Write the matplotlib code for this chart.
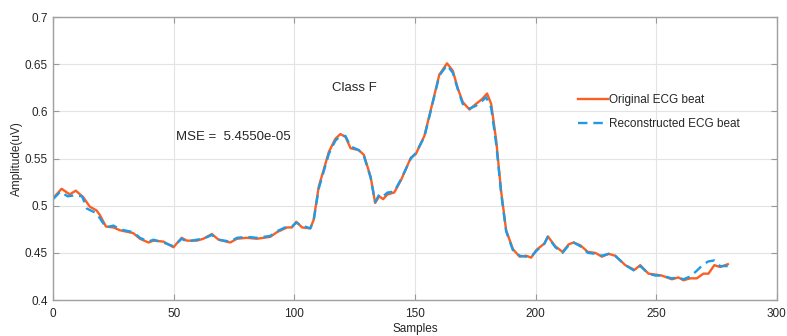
import matplotlib
matplotlib.use('Agg')
import matplotlib.pyplot as plt

plt.rcParams['font.family'] = ['Liberation Sans', 'DejaVu Sans']

# original ECG beat (sample index, amplitude)
x_orig = [0, 3.5, 6.9, 9.4, 12.5, 15.2, 18, 19.4, 21.9, 25, 27.7, 33.2, 36, 39.5,
          41.6, 45.7, 49.9, 53.3, 55.4, 59.6, 62.3, 65.8, 68.6, 73.4, 76.2, 80.3,
          84.5, 90, 92.8, 97, 99, 100.8, 103.2, 106.6, 108, 110.1, 114.3, 117,
          119.1, 121.2, 123.3, 126.7, 128.8, 131.6, 133.5, 135.2, 136.8, 138.6,
          141.4, 144.2, 148.3, 150.4, 153.9, 156.6, 160.1, 163.3, 165.7, 167.7,
          169.8, 172.6, 175.3, 177.8, 179.9, 181.6, 183.7, 185.7, 187.8, 190.6,
          193.4, 196.1, 198.2, 200.3, 203.7, 205.1, 208.2, 211.2, 213.7, 215.8,
          218.6, 221.7, 224.8, 227.5, 230.3, 233, 237.2, 241, 243.4, 246.8, 249.6,
          252.3, 256.5, 259.2, 261.3, 264.1, 266.8, 269.6, 271.7, 274.1, 276.5, 279.7]
y_orig = [0.508, 0.518, 0.512, 0.516, 0.509, 0.499, 0.495, 0.490, 0.478, 0.477,
          0.474, 0.471, 0.465, 0.461, 0.463, 0.462, 0.456, 0.466, 0.463, 0.463,
          0.465, 0.470, 0.464, 0.461, 0.465, 0.466, 0.465, 0.467, 0.472, 0.477,
          0.477, 0.483, 0.477, 0.476, 0.485, 0.520, 0.557, 0.571, 0.576, 0.573,
          0.561, 0.559, 0.554, 0.531, 0.503, 0.510, 0.507, 0.512, 0.514, 0.527,
          0.551, 0.555, 0.574, 0.602, 0.639, 0.651, 0.643, 0.625, 0.610, 0.602,
          0.608, 0.613, 0.619, 0.608, 0.569, 0.516, 0.474, 0.454, 0.446, 0.447,
          0.445, 0.453, 0.460, 0.4675, 0.457, 0.451, 0.459, 0.461, 0.458, 0.451,
          0.450, 0.446, 0.449, 0.447, 0.437, 0.432, 0.437, 0.428, 0.427, 0.426,
          0.422, 0.424, 0.421, 0.423, 0.423, 0.428, 0.428, 0.437, 0.435, 0.438]

# reconstructed ECG beat
x_rec = [0, 3, 6, 9, 12, 14, 18, 21.9, 25, 27.7, 33.2, 36, 39.5, 41.6, 45.7, 49.9,
         53.3, 55.4, 59.6, 62.3, 65.8, 68.6, 73.4, 76.2, 80.3, 84.5, 90, 92.8, 97,
         99, 100.8, 103.2, 106.6, 108, 110.1, 114.3, 117, 119.1, 121.2, 123.3,
         126.7, 128.8, 131.6, 133.5, 135.2, 136.8, 138.6, 141.4, 144.2, 148.3,
         150.4, 153.9, 156.6, 160.1, 163.3, 165.7, 167.7, 169.8, 172.6, 175.3,
         177.8, 179.5, 181.6, 183.7, 185.7, 187.8, 190.6, 193.4, 196.1, 198.2,
         200.3, 203.7, 205.1, 208.2, 211.2, 213.7, 215.8, 218.6, 221.7, 224.8,
         227.5, 230.3, 233, 237.2, 241, 243.4, 246.8, 249.6, 252.3, 256.5, 259.2,
         261.3, 264.1, 266.8, 269.6, 271.7, 274.1, 276.5, 279.7]
y_rec = [0.507, 0.515, 0.510, 0.511, 0.510, 0.497, 0.492, 0.477, 0.479, 0.475,
         0.472, 0.466, 0.462, 0.464, 0.461, 0.457, 0.465, 0.462, 0.464, 0.465,
         0.469, 0.464, 0.462, 0.466, 0.467, 0.466, 0.468, 0.473, 0.478, 0.478,
         0.482, 0.479, 0.476, 0.484, 0.518, 0.555, 0.569, 0.574, 0.574, 0.563,
         0.559, 0.553, 0.530, 0.504, 0.512, 0.510, 0.514, 0.515, 0.528, 0.550,
         0.556, 0.573, 0.601, 0.638, 0.649, 0.641, 0.624, 0.608, 0.603, 0.606,
         0.611, 0.615, 0.604, 0.565, 0.514, 0.473, 0.453, 0.447, 0.446, 0.446,
         0.452, 0.460, 0.467, 0.456, 0.450, 0.458, 0.461, 0.457, 0.450, 0.449,
         0.447, 0.449, 0.447, 0.437, 0.431, 0.436, 0.428, 0.426, 0.426, 0.423,
         0.424, 0.422, 0.425, 0.431, 0.438, 0.441, 0.442, 0.436, 0.436]

x_ticks = [0, 50, 100, 150, 200, 250, 300]
y_ticks = [0.4, 0.45, 0.5, 0.55, 0.6, 0.65, 0.7]
y_ticklabels = ['0.4', '0.45', '0.5', '0.55', '0.6', '0.65', '0.7']

fig = plt.figure(figsize=(7.87, 3.36), dpi=100)
ax = fig.add_axes([0.0675, 0.107, 0.9195, 0.842])

ax.plot(x_orig, y_orig, color='#fa5f23', lw=1.7, label='Original ECG beat')
ax.plot(x_rec, y_rec, color='#1f9be6', lw=1.7, ls=(0, (4, 2.5)),
        label='Reconstructed ECG beat')

ax.set_xlim(0, 300)
ax.set_ylim(0.4, 0.7)
ax.set_xticks(x_ticks)
ax.set_yticks(y_ticks)
ax.set_yticklabels(y_ticklabels)
ax.grid(True, color='#e3e3e3', lw=0.8)
ax.tick_params(direction='in', top=True, right=True, labelsize=8.5,
               colors='#999999', labelcolor='#262626', length=4)
ax.tick_params(axis='x', pad=6)
ax.tick_params(axis='y', pad=4)
for s in ax.spines.values():
    s.set_color('#a0a0a0')
    s.set_linewidth(1.0)

ax.set_xlabel('Samples', fontsize=8.5, color='#262626', labelpad=2)
ax.set_ylabel('Amplitude(uV)', fontsize=8.5, color='#262626', labelpad=1)

ax.text(125, 0.625, 'Class F', fontsize=9.5, color='#262626', ha='center', va='center')
ax.text(51, 0.573, 'MSE =  5.4550e-05', fontsize=9.5, color='#262626', ha='left', va='center')

leg = ax.legend(loc='upper left', bbox_to_anchor=(0.71, 0.765), frameon=False,
                fontsize=8.5, handlelength=2.6, handletextpad=0.1, labelspacing=1.0)
for t in leg.get_texts():
    t.set_color('#262626')

fig.savefig('out.png', dpi=100)
